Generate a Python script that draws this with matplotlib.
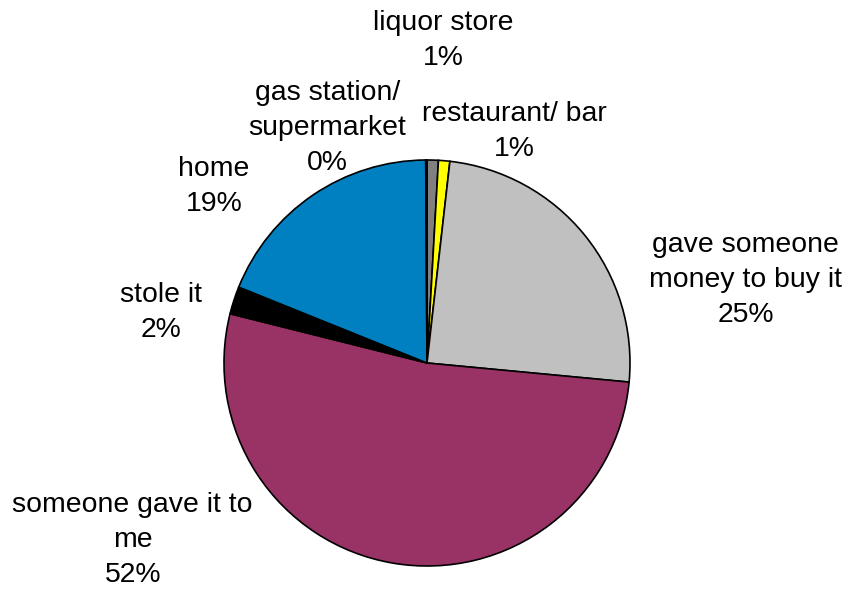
import numpy as np
import matplotlib.pyplot as plt

plt.rcParams['font.family'] = ['Liberation Sans', 'DejaVu Sans']

# share of responses, clockwise from 12 o'clock
labels = ['liquor store', 'restaurant/ bar', 'gave someone\nmoney to buy it',
          'someone gave it to\nme', 'stole it', 'home', 'gas station/\nsupermarket']
values = [0.9, 0.9, 24.7, 52.4, 2.2, 18.8, 0.1]
colors = ['#808080', '#FFFF00', '#C0C0C0', '#993366', '#000000', '#0080C0', '#FFFFFF']

# where each label sits, in pie-radius units
label_xy = [(0.08, 1.59), (0.43, 1.14), (1.57, 0.41), (-1.45, -0.87),
            (-1.31, 0.25), (-1.05, 0.87), (-0.49, 1.16)]

W, H = 848, 591
cx, cy, R = 427, 363, 203

fig = plt.figure(figsize=(W / 100, H / 100), dpi=100)
ax = fig.add_axes([0, 0, 1, 1])
ax.axis('off')

ax.pie(values, colors=colors, startangle=90, counterclock=False, radius=1,
       wedgeprops=dict(edgecolor='black', linewidth=1.2))
ax.set_xlim(-cx / R, (W - cx) / R)
ax.set_ylim(-(H - cy) / R, cy / R)
ax.set_aspect('auto')

for lab, v, (x, y) in zip(labels, values, label_xy):
    ax.text(x, y, '%s\n%d%%' % (lab, round(v)), ha='center', va='center',
            fontsize=20.4, linespacing=1.45)

fig.savefig('out.png', dpi=100)
